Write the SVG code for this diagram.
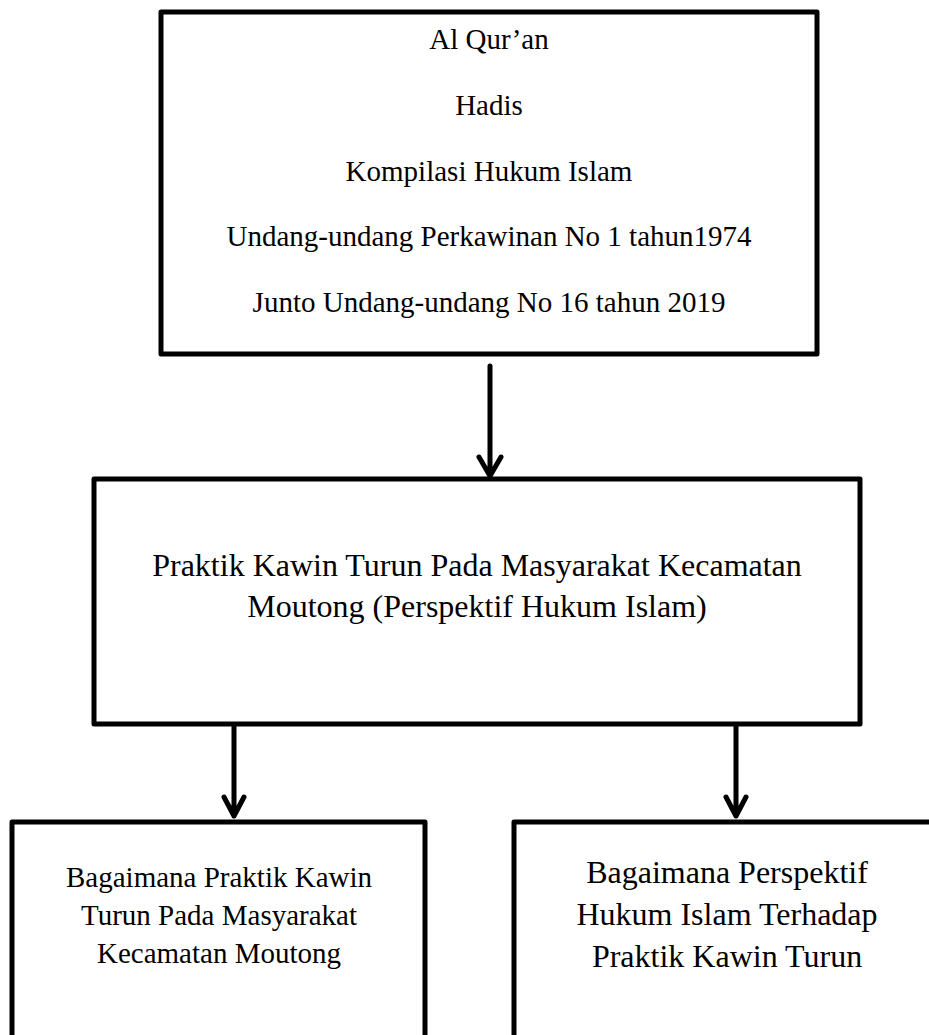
<svg xmlns="http://www.w3.org/2000/svg" width="929" height="1035" viewBox="0 0 929 1035">
<style>
.box{fill:#fff;stroke:#000;stroke-width:5;stroke-linejoin:round}
.t{font-family:"Liberation Serif","Times New Roman",serif;fill:#000;text-anchor:middle}
.c{fill:none;stroke:#000;stroke-width:5;stroke-linecap:round;stroke-linejoin:round}
</style>
<rect width="929" height="1035" fill="#fff"/>
<g id="sources">
<rect class="box" x="161" y="12" width="656" height="342"/>
<text class="t" font-size="29" x="489" y="49">Al Qur’an</text>
<text class="t" font-size="29" x="489" y="115">Hadis</text>
<text class="t" font-size="29" x="489" y="181">Kompilasi Hukum Islam</text>
<text class="t" font-size="29" x="489" y="246">Undang-undang Perkawinan No 1 tahun1974</text>
<text class="t" font-size="29" x="489" y="312">Junto Undang-undang No 16 tahun 2019</text>
</g>
<g id="main">
<rect class="box" x="94" y="479" width="766" height="245"/>
<text class="t" font-size="32" x="477" y="576">Praktik Kawin Turun Pada Masyarakat Kecamatan</text>
<text class="t" font-size="32" x="477" y="617">Moutong (Perspektif Hukum Islam)</text>
</g>
<g id="q1">
<rect class="box" x="12" y="822" width="413" height="260"/>
<text class="t" font-size="29" x="219" y="887">Bagaimana Praktik Kawin</text>
<text class="t" font-size="29" x="219" y="925">Turun Pada Masyarakat</text>
<text class="t" font-size="29" x="219" y="963">Kecamatan Moutong</text>
</g>
<g id="q2">
<rect class="box" x="514" y="822" width="450" height="260"/>
<text class="t" font-size="32" x="727" y="883">Bagaimana Perspektif</text>
<text class="t" font-size="32" x="727" y="925">Hukum Islam Terhadap</text>
<text class="t" font-size="32" x="727" y="967">Praktik Kawin Turun</text>
</g>
<g id="connectors">
<path class="c" d="M490 366 V476 M479 457 L490 476 L501 457"/>
<path class="c" d="M234 727 V816 M224 797 L234 816 L244 797"/>
<path class="c" d="M736 727 V816 M726 797 L736 816 L746 797"/>
</g>
</svg>
